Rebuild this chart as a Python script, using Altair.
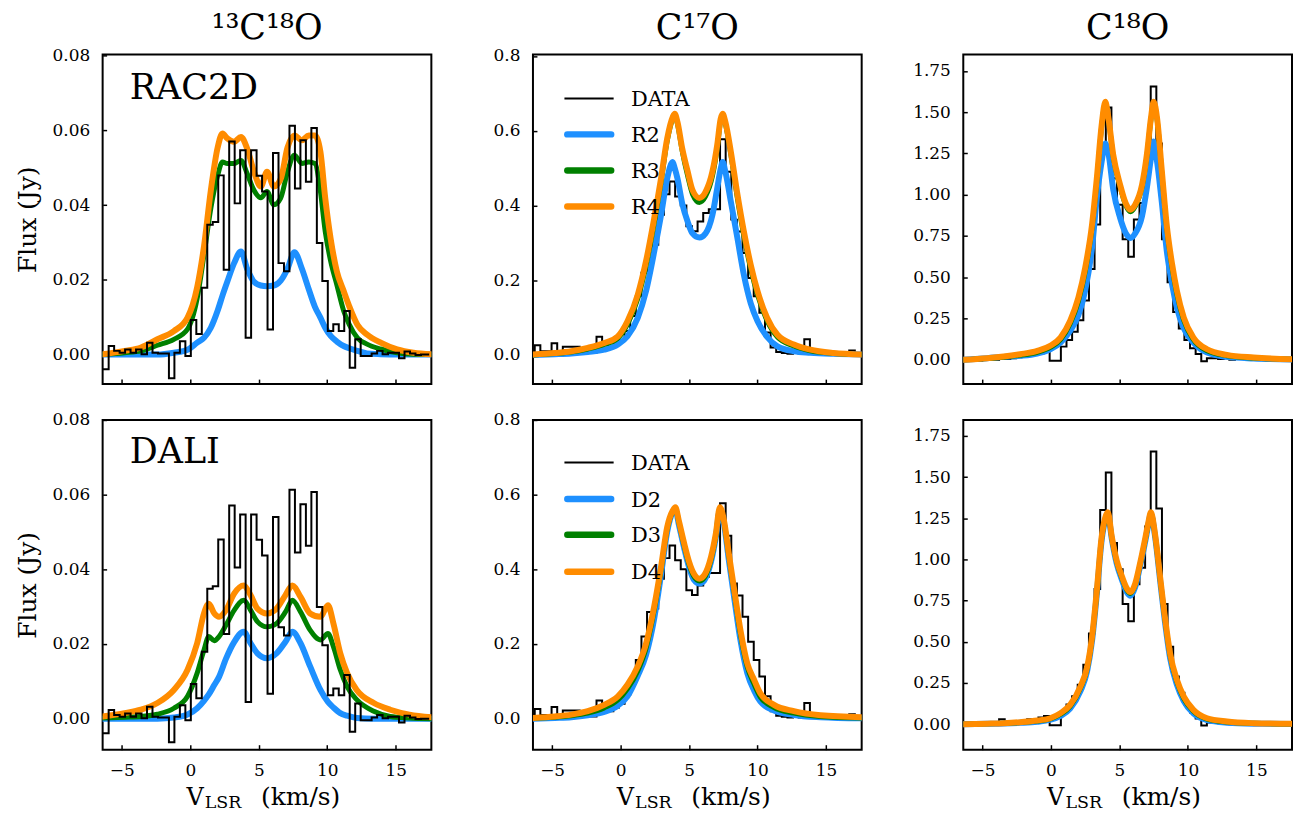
import altair as alt
import pandas as pd

FONT = "DejaVu Serif"
W, H = 330, 331
X_DOMAIN = [-6.4, 17.6]
X_TICKS = [-5, 0, 5, 10, 15]
BLUE, GREEN, ORANGE = "#1E90FF", "#008000", "#FF8C00"

# ---------------- observed spectra (channel values, Jy) ----------------
C13_START, C13_WIDTH = -6.56, 0.40
data_13c18o = [
    -0.0039, -0.0039, 0.0023, 0.0010, 0.0005, 0.0014, 0.0005, 0.0014, 0.0001, 0.0032,
    0.0005, 0.0003, 0.0003, -0.0063, 0.0005, 0.0036, -0.0004, 0.0093, 0.0055, 0.0179,
    0.0348, 0.0355, 0.0480, 0.0227, 0.0571, 0.0405, 0.0547, 0.0045, 0.0547, 0.0479,
    0.0437, 0.0067, 0.0540, 0.0245, 0.0223, 0.0613, 0.0445, 0.0574, 0.0463, 0.0607,
    0.0299, 0.0197, 0.0063, 0.0081, 0.0063, 0.0117, -0.0035, 0.0041, -0.0004, -0.0004,
    0.0003, 0.0010, 0.0001, 0.0005, 0.0005, -0.0010, 0.0008, 0.0003, -0.0001, 0.0000,
    0.0000]

C17_START, C17_WIDTH = -6.475, 0.41
data_c17o = [
    0.002, 0.026, 0.010, 0.010, 0.031, 0.010, 0.022, 0.022, 0.022, 0.006,
    0.006, 0.006, 0.049, 0.033, 0.020, 0.030, 0.040, 0.064, 0.104, 0.157,
    0.220, 0.286, 0.295, 0.375, 0.430, 0.464, 0.424, 0.400, 0.344, 0.331,
    0.357, 0.380, 0.390, 0.390, 0.577, 0.490, 0.362, 0.330, 0.273, 0.206,
    0.157, 0.113, 0.060, 0.020, 0.008, 0.005, 0.003, 0.005, 0.003, 0.042,
    0.005, 0.005, 0.004, 0.004, 0.003, 0.003, 0.004, 0.012, 0.003, 0.003]

C18_START, C18_WIDTH = -6.45, 0.41
data_c18o = [
    0.005, 0.000, 0.010, -0.005, 0.000, 0.010, 0.000, 0.030, 0.005, 0.010,
    0.015, 0.020, 0.030, 0.030, 0.040, 0.050, -0.006, -0.006, 0.080, 0.120,
    0.170, 0.240, 0.360, 0.550, 0.820, 1.300, 1.528, 1.100, 0.940, 0.730,
    0.625, 0.850, 0.950, 1.200, 1.655, 1.310, 0.730, 0.470, 0.290, 0.190,
    0.120, 0.070, 0.035, -0.008, 0.010, 0.010, 0.005, 0.010, 0.000, 0.005,
    0.005, 0.000, 0.005, 0.000, 0.005, 0.000, 0.005, 0.000, 0.005, 0.000]

# ---------------- 13C18O models ----------------
v_13_rac = [-6.4, -4.8, -3.6, -2.4, -1.2, -0.2, 0.5, 1.0, 1.5, 2.0, 2.35, 2.7, 3.2, 3.7, 4.15,
            4.65, 5.15, 5.6, 6.1, 6.6, 7.1, 7.6, 8.15, 8.65, 9.1, 9.5, 9.85, 10.25, 10.7, 11.2,
            11.6, 12.2, 12.9, 13.9, 15.1, 16.3, 17.6]
r2_13 = [0.0, 0.0, 0.0, 0.0, 0.0005, 0.0013, 0.0032, 0.0045, 0.0072, 0.0118, 0.0158, 0.0195,
         0.0245, 0.0276, 0.0230, 0.0195, 0.0185, 0.0183, 0.0185, 0.0198, 0.0230, 0.0274, 0.0230,
         0.0175, 0.0128, 0.0099, 0.0072, 0.0050, 0.0035, 0.0023, 0.0017, 0.0010, 0.0003, 0.0001,
         0.0, 0.0, 0.0]
r3_13 = [0.0, 0.0005, 0.0010, 0.0025, 0.0041, 0.0068, 0.0150, 0.0267, 0.0392, 0.0480, 0.0516,
         0.0512, 0.0512, 0.0520, 0.0485, 0.0440, 0.0420, 0.0437, 0.0401, 0.0419, 0.0490, 0.0534,
         0.0512, 0.0516, 0.0512, 0.0437, 0.0330, 0.0250, 0.0187, 0.0117, 0.0081, 0.0045, 0.0028,
         0.0015, 0.0005, 0.0001, 0.0]
r4_13 = [0.0001, 0.0010, 0.0019, 0.0041, 0.0063, 0.0099, 0.0180, 0.0290, 0.0440, 0.0555, 0.0592,
         0.0579, 0.0570, 0.0583, 0.0552, 0.0490, 0.0450, 0.0490, 0.0450, 0.0470, 0.0555, 0.0587,
         0.0574, 0.0587, 0.0587, 0.0543, 0.0420, 0.0310, 0.0223, 0.0170, 0.0130, 0.0080, 0.0054,
         0.0032, 0.0014, 0.0005, 0.0001]

v_13_dali = [-6.4, -4.8, -3.6, -2.4, -1.2, -0.2, 0.5, 1.0, 1.35, 1.75, 2.1, 2.6, 3.2, 3.9, 4.4,
             4.9, 5.6, 6.3, 6.95, 7.45, 8.05, 8.75, 9.5, 10.05, 10.45, 10.95, 11.45, 12.15, 13.4,
             14.6, 16.0, 17.6]
d2_13 = [0.0, 0.0, 0.0, 0.0, 0.0003, 0.0011, 0.0028, 0.0048, 0.0065, 0.0090, 0.0112, 0.0160,
         0.0205, 0.0233, 0.0202, 0.0175, 0.0162, 0.0175, 0.0206, 0.0233, 0.0202, 0.0140, 0.0077,
         0.0045, 0.0030, 0.0015, 0.0008, 0.0002, 0.0, 0.0, 0.0, 0.0]
d3_13 = [0.0002, 0.0004, 0.0006, 0.0012, 0.0028, 0.0060, 0.0122, 0.0184, 0.0220, 0.0209, 0.0220,
         0.0250, 0.0290, 0.0317, 0.0291, 0.0260, 0.0246, 0.0255, 0.0286, 0.0317, 0.0286, 0.0237,
         0.0211, 0.0228, 0.0193, 0.0131, 0.0086, 0.0051, 0.0020, 0.0006, 0.0002, 0.0]
d4_13 = [0.0006, 0.0015, 0.0024, 0.0042, 0.0077, 0.0131, 0.0202, 0.0282, 0.0308, 0.0282, 0.0273,
         0.0290, 0.0335, 0.0357, 0.0331, 0.0295, 0.0282, 0.0295, 0.0331, 0.0357, 0.0326, 0.0282,
         0.0273, 0.0304, 0.0255, 0.0175, 0.0122, 0.0077, 0.0042, 0.0024, 0.0011, 0.0004]

# ---------------- C17O models ----------------
v_17_rac = [-6.4, -4.8, -3.6, -2.4, -1.2, -0.2, 0.5, 1.25, 1.85, 2.45, 2.95, 3.4, 3.8, 3.95, 4.15,
            4.5, 4.9, 5.25, 5.75, 6.2, 6.7, 7.05, 7.3, 7.45, 7.65, 8.05, 8.5, 9.0, 9.5, 10.0,
            10.7, 11.45, 12.65, 13.85, 15.55, 17.6]
r2_17 = [0.0, 0.002, 0.004, 0.008, 0.014, 0.028, 0.050, 0.099, 0.170, 0.276, 0.374, 0.472, 0.516,
         0.500, 0.472, 0.405, 0.356, 0.325, 0.314, 0.325, 0.374, 0.445, 0.497, 0.516, 0.490,
         0.410, 0.318, 0.214, 0.138, 0.090, 0.048, 0.023, 0.010, 0.006, 0.003, 0.001]
r3_17 = [0.0, 0.004, 0.008, 0.016, 0.028, 0.045, 0.082, 0.150, 0.238, 0.352, 0.462, 0.572, 0.632,
         0.642, 0.618, 0.545, 0.478, 0.430, 0.408, 0.424, 0.478, 0.552, 0.626, 0.642, 0.618,
         0.535, 0.425, 0.318, 0.230, 0.160, 0.091, 0.048, 0.024, 0.011, 0.004, 0.001]
r4_17 = [0.001, 0.005, 0.010, 0.019, 0.032, 0.050, 0.090, 0.161, 0.250, 0.365, 0.472, 0.579, 0.636,
         0.645, 0.623, 0.552, 0.490, 0.441, 0.420, 0.436, 0.490, 0.561, 0.631, 0.645, 0.623,
         0.543, 0.436, 0.330, 0.241, 0.170, 0.099, 0.054, 0.028, 0.014, 0.005, 0.001]

v_17_dali = [-6.4, -4.8, -3.6, -2.4, -1.2, -0.2, 0.5, 1.25, 1.85, 2.45, 2.95, 3.4, 3.8, 4.0, 4.25,
             4.65, 5.0, 5.35, 5.75, 6.1, 6.6, 6.95, 7.25, 7.55, 7.9, 8.3, 8.75, 9.25, 9.75, 10.2,
             11.2, 12.65, 14.6, 17.6]
d2_17 = [0.0, 0.002, 0.004, 0.009, 0.018, 0.035, 0.060, 0.115, 0.170, 0.268, 0.385, 0.500, 0.553,
         0.560, 0.520, 0.455, 0.405, 0.372, 0.362, 0.370, 0.420, 0.485, 0.560, 0.520, 0.425,
         0.322, 0.210, 0.122, 0.075, 0.046, 0.022, 0.010, 0.004, 0.001]
d3_17 = [0.001, 0.004, 0.008, 0.015, 0.029, 0.050, 0.080, 0.128, 0.188, 0.290, 0.398, 0.508, 0.554,
         0.563, 0.526, 0.462, 0.413, 0.381, 0.369, 0.377, 0.426, 0.490, 0.563, 0.526, 0.436,
         0.336, 0.226, 0.138, 0.092, 0.058, 0.030, 0.015, 0.006, 0.002]
d4_17 = [0.002, 0.006, 0.011, 0.020, 0.037, 0.060, 0.091, 0.140, 0.200, 0.300, 0.406, 0.513, 0.557,
         0.566, 0.530, 0.468, 0.420, 0.388, 0.375, 0.384, 0.433, 0.495, 0.566, 0.530, 0.442,
         0.344, 0.237, 0.148, 0.104, 0.068, 0.037, 0.020, 0.009, 0.004]

# ---------------- C18O models ----------------
v_18_rac = [-6.4, -4.65, -3.45, -2.25, -1.0, -0.05, 0.7, 1.4, 2.0, 2.5, 3.0, 3.35, 3.7, 3.97, 4.2,
            4.55, 5.05, 5.45, 5.8, 6.15, 6.65, 7.0, 7.3, 7.5, 7.75, 8.1, 8.45, 8.85, 9.2, 9.7,
            10.4, 11.4, 12.85, 14.8, 17.6]
r2_18 = [0.0, 0.010, 0.018, 0.024, 0.038, 0.064, 0.105, 0.175, 0.270, 0.420, 0.680, 0.980, 1.200,
         1.310, 1.250, 1.030, 0.860, 0.769, 0.738, 0.765, 0.870, 1.040, 1.220, 1.322, 1.200,
         0.950, 0.665, 0.455, 0.316, 0.190, 0.105, 0.044, 0.018, 0.008, 0.002]
r3_18 = [0.0, 0.008, 0.016, 0.028, 0.046, 0.075, 0.122, 0.218, 0.355, 0.535, 0.800, 1.080, 1.410,
         1.555, 1.455, 1.230, 1.048, 0.938, 0.897, 0.928, 1.048, 1.230, 1.455, 1.555, 1.455,
         1.128, 0.800, 0.556, 0.395, 0.238, 0.122, 0.055, 0.025, 0.011, 0.003]
r4_18 = [0.0, 0.010, 0.020, 0.034, 0.054, 0.085, 0.135, 0.235, 0.376, 0.557, 0.819, 1.100, 1.420,
         1.563, 1.463, 1.241, 1.060, 0.950, 0.909, 0.940, 1.060, 1.241, 1.463, 1.563, 1.463,
         1.141, 0.819, 0.577, 0.416, 0.256, 0.135, 0.064, 0.030, 0.014, 0.004]

v_18_dali = [-6.4, -4.65, -3.45, -2.25, -1.0, -0.05, 0.7, 1.4, 2.15, 2.65, 3.0, 3.35, 3.7, 3.95,
             4.15, 4.45, 4.8, 5.2, 5.55, 5.8, 6.15, 6.5, 6.9, 7.1, 7.3, 7.6, 8.0, 8.35, 8.7, 9.2,
             9.7, 10.4, 11.4, 12.85, 14.8, 17.6]
d2_18 = [0.0, 0.002, 0.004, 0.008, 0.015, 0.027, 0.050, 0.095, 0.200, 0.325, 0.505, 0.790, 1.115,
         1.235, 1.275, 1.120, 0.975, 0.872, 0.800, 0.780, 0.832, 0.955, 1.115, 1.205, 1.275,
         1.140, 0.850, 0.605, 0.400, 0.238, 0.140, 0.065, 0.024, 0.009, 0.003, 0.001]
d3_18 = [0.0, 0.002, 0.005, 0.010, 0.019, 0.032, 0.060, 0.108, 0.218, 0.340, 0.520, 0.800, 1.125,
         1.240, 1.280, 1.128, 0.985, 0.884, 0.814, 0.794, 0.845, 0.965, 1.125, 1.210, 1.280,
         1.148, 0.862, 0.620, 0.418, 0.256, 0.155, 0.078, 0.031, 0.013, 0.005, 0.001]
d4_18 = [0.0, 0.003, 0.006, 0.012, 0.022, 0.036, 0.067, 0.117, 0.228, 0.349, 0.530, 0.812, 1.135,
         1.250, 1.286, 1.135, 0.994, 0.893, 0.823, 0.802, 0.853, 0.974, 1.135, 1.220, 1.286,
         1.155, 0.873, 0.631, 0.429, 0.268, 0.167, 0.087, 0.036, 0.016, 0.006, 0.002]

TITLES = ["\u00b9\u00b3C\u00b9\u2078O", "C\u00b9\u2077O", "C\u00b9\u2078O"]
ROW_LABELS = ["RAC2D", "DALI"]
ROW_LABEL_Y = [44.3, 43.3]
LEG_NAMES = [["DATA", "R2", "R3", "R4"], ["DATA", "D2", "D3", "D4"]]
LEG_Y = [[44.3, 80.3, 116.6, 152.6], [42.8, 79.3, 115.3, 152.3]]

Y_DOMAINS = [
    [[-0.0079, 0.0804], [-0.078, 0.804], [-0.147, 1.85]],
    [[-0.0083, 0.0800], [-0.083, 0.800], [-0.155, 1.847]],
]
Y_TICKS = [[0.0, 0.02, 0.04, 0.06, 0.08], [0.0, 0.2, 0.4, 0.6, 0.8],
           [0.0, 0.25, 0.5, 0.75, 1.0, 1.25, 1.5, 1.75]]
Y_FMT = [".2f", ".1f", ".2f"]

DATA = [(C13_START, C13_WIDTH, data_13c18o), (C17_START, C17_WIDTH, data_c17o),
        (C18_START, C18_WIDTH, data_c18o)]
MODELS = [
    [(v_13_rac, r2_13, r3_13, r4_13), (v_17_rac, r2_17, r3_17, r4_17), (v_18_rac, r2_18, r3_18, r4_18)],
    [(v_13_dali, d2_13, d3_13, d4_13), (v_17_dali, d2_17, d3_17, d4_17), (v_18_dali, d2_18, d3_18, d4_18)],
]


def text_layer(txt, x, y, size, align="left"):
    return alt.Chart(pd.DataFrame({"t": [txt]})).mark_text(
        font=FONT, fontSize=size, align=align, baseline="alphabetic", color="black"
    ).encode(text="t:N", x=alt.value(x), y=alt.value(y))


def panel(row, col):
    x_axis = alt.Axis(values=X_TICKS, title=None, labels=(row == 1), offset=-5, tickSize=5,
                      tickWidth=1.5, tickColor="black", domain=False, grid=False,
                      labelFont=FONT, labelFontSize=17, labelColor="black", labelPadding=12.5,
                      format="d")
    y_axis = alt.Axis(values=Y_TICKS[col], format=Y_FMT[col], title="Flux (Jy)",
                      titleOpacity=1 if col == 0 else 0, titleFont=FONT, titleFontSize=25,
                      titleFontWeight="normal", titleColor="black", titlePadding=11,
                      minExtent=55, maxExtent=55, offset=-4, tickSize=4, tickWidth=1.5,
                      tickColor="black", domain=False, grid=False, labelFont=FONT,
                      labelFontSize=17, labelColor="black", labelPadding=13)
    xenc = alt.X("v:Q", scale=alt.Scale(domain=X_DOMAIN, nice=False, zero=False), axis=x_axis)
    yenc = alt.Y("f:Q", scale=alt.Scale(domain=Y_DOMAINS[row][col], nice=False, zero=False),
                 axis=y_axis)

    start, width, vals = DATA[col]
    ddf = pd.DataFrame({"v": [start + width * i for i in range(len(vals))], "f": vals})
    data_layer = alt.Chart(ddf).mark_line(
        interpolate="step", color="black", strokeWidth=2, clip=True
    ).encode(x=xenc, y=yenc)

    vgrid, m2, m3, m4 = MODELS[row][col]
    model_layers = []
    for vals_m, color, sw in [(m2, BLUE, 6), (m3, GREEN, 5), (m4, ORANGE, 6)]:
        mdf = pd.DataFrame({"v": vgrid, "f": vals_m})
        model_layers.append(alt.Chart(mdf).mark_line(
            interpolate="monotone", color=color, strokeWidth=sw, strokeCap="round",
            strokeJoin="round", clip=True
        ).encode(x=xenc, y=yenc))

    if col == 0:
        layers = model_layers + [data_layer]
    else:
        layers = [data_layer] + model_layers

    if row == 0:
        layers.append(text_layer(TITLES[col], W / 2, -15.7, 35, align="center"))
    if col == 0:
        layers.append(text_layer(ROW_LABELS[row], 27.3, ROW_LABEL_Y[row], 35))
    if col == 1:
        colors = ["black", BLUE, GREEN, ORANGE]
        for name, c, y in zip(LEG_NAMES[row], colors, LEG_Y[row]):
            one = pd.DataFrame({"t": [name]})
            if c == "black":
                rule = alt.Chart(one).mark_rule(color=c, strokeWidth=2).encode(
                    x=alt.value(31.6), x2=alt.value(81), y=alt.value(y))
            else:
                rule = alt.Chart(one).mark_rule(color=c, strokeWidth=6.5, strokeCap="round").encode(
                    x=alt.value(34.5), x2=alt.value(78.5), y=alt.value(y))
            layers.append(rule)
            layers.append(text_layer(name, 98.3, y + 7.7, 21))
    if row == 1:
        layers.append(text_layer("V", 101.5, H + 56, 24, align="right"))
        layers.append(text_layer("LSR", 102.5, H + 59, 17.5))
        layers.append(text_layer("(km/s)", 159, H + 56, 25))

    return alt.layer(*layers).properties(width=W, height=H)


top = alt.hconcat(*[panel(0, c) for c in range(3)], spacing=13)
bottom = alt.hconcat(*[panel(1, c) for c in range(3)], spacing=13)
chart = alt.vconcat(top, bottom, spacing=24).properties(
    padding={"left": 7, "top": 0, "right": 0, "bottom": 0},
    background="white",
).configure_view(stroke="black", strokeWidth=2)

chart.save("out.html", embed_options={"renderer": "svg", "actions": False})
